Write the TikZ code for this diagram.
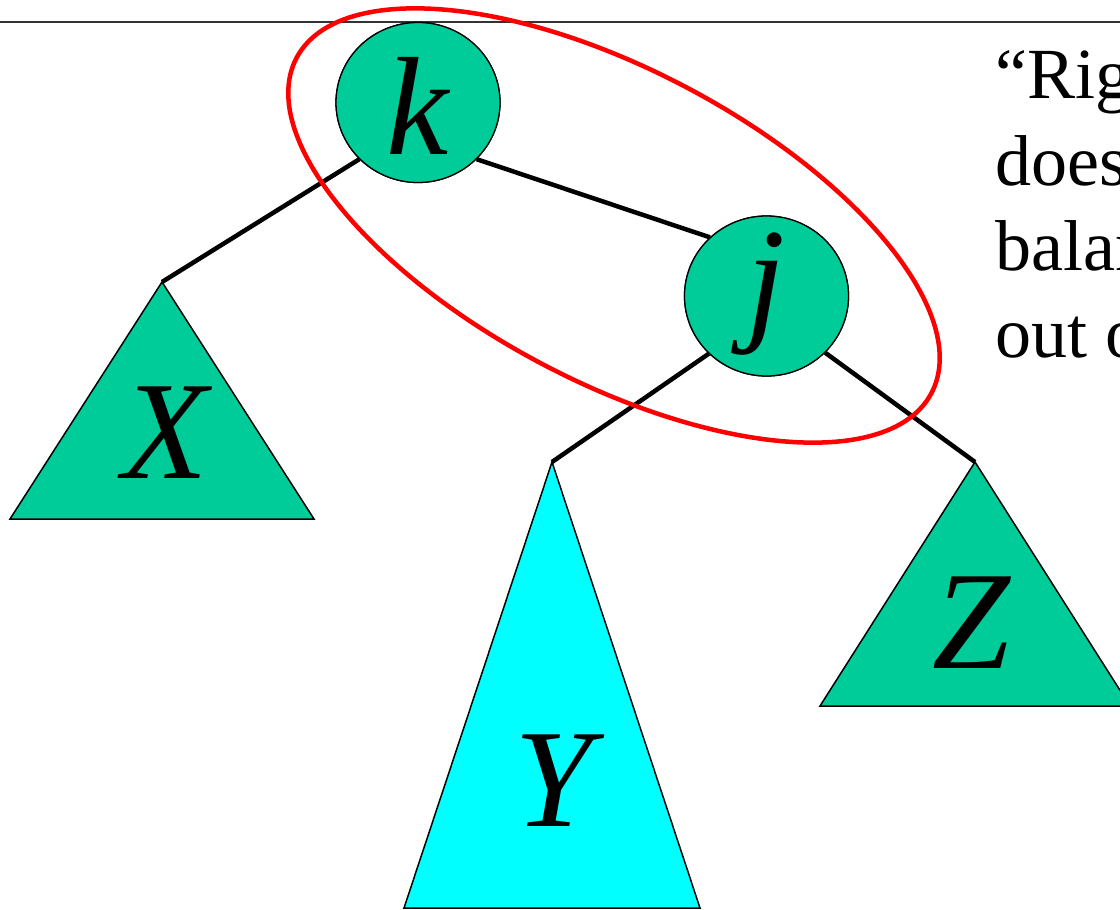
\documentclass[tikz,border=0pt]{standalone}
\usepackage{fontspec}
\setmainfont{Liberation Serif}
\usetikzlibrary{shapes.geometric}
\definecolor{teal}{RGB}{0,204,153}
\definecolor{aqua}{RGB}{0,255,255}
\definecolor{ovalred}{RGB}{255,0,0}
\begin{document}
\begin{tikzpicture}[x=1pt,y=-1pt,
  keynode/.style={ellipse,draw=black,line width=1.3pt,fill=teal,minimum width=164pt,minimum height=160pt,inner sep=0pt},
  subtree/.style={draw=black,line width=1.5pt},
  edge/.style={draw=black,line width=4.5pt},
  biglabel/.style={font=\fontsize{140}{160}\selectfont\itshape,inner sep=0pt,anchor=base},
  sidetext/.style={font=\fontsize{72}{86}\selectfont,inner sep=0pt,anchor=base west}]
\clip (0,0) rectangle (1120,910);
\fill[white] (0,0) rectangle (1120,910);
\coordinate (tl) at (0,22);
\coordinate (tr) at (1120,22);
\draw[line width=1.5pt,black!80] (tl) -- (tr);
% subtree triangles
\coordinate (xa) at (162,282);
\coordinate (ya) at (552,462);
\coordinate (za) at (975,462);
\filldraw[subtree,fill=teal] (xa) -- (10,519) -- (314,519) -- cycle;
\filldraw[subtree,fill=aqua] (ya) -- (404,908) -- (700,908) -- cycle;
\filldraw[subtree,fill=teal] (za) -- (820,706) -- (1130,706) -- cycle;
\node[biglabel] (xl) at (165,478) {X};
\node[biglabel] (yl) at (553,826) {Y};
\node[biglabel] (zl) at (971,668) {Z};
% key nodes
\node[keynode] (k) at (418,102.5) {};
\node[keynode] (j) at (766.5,296) {};
\draw[edge] (k.224) -- (xa);
\draw[edge] (k.316) -- (j.134);
\draw[edge] (j.225) -- (ya);
\draw[edge] (j.316) -- (za);
\node[keynode] at (k) {};
\node[keynode] at (j) {};
\node[biglabel] (kl) at (418,154) {k};
\node[biglabel] (jl) at (766,325) {j};
% red oval
\draw[ovalred,line width=4.5pt,rotate around={-27.85:(614,225.5)}] (614,225.5) ellipse [x radius=359, y radius=156];
% side text
\node[sidetext] (t1) at (995,98) {“Right rotation”};
\node[sidetext] (t2) at (995,185) {does not};
\node[sidetext] (t3) at (995,270) {balance};
\node[sidetext] (t4) at (995,357) {out of};
\end{tikzpicture}
\end{document}
